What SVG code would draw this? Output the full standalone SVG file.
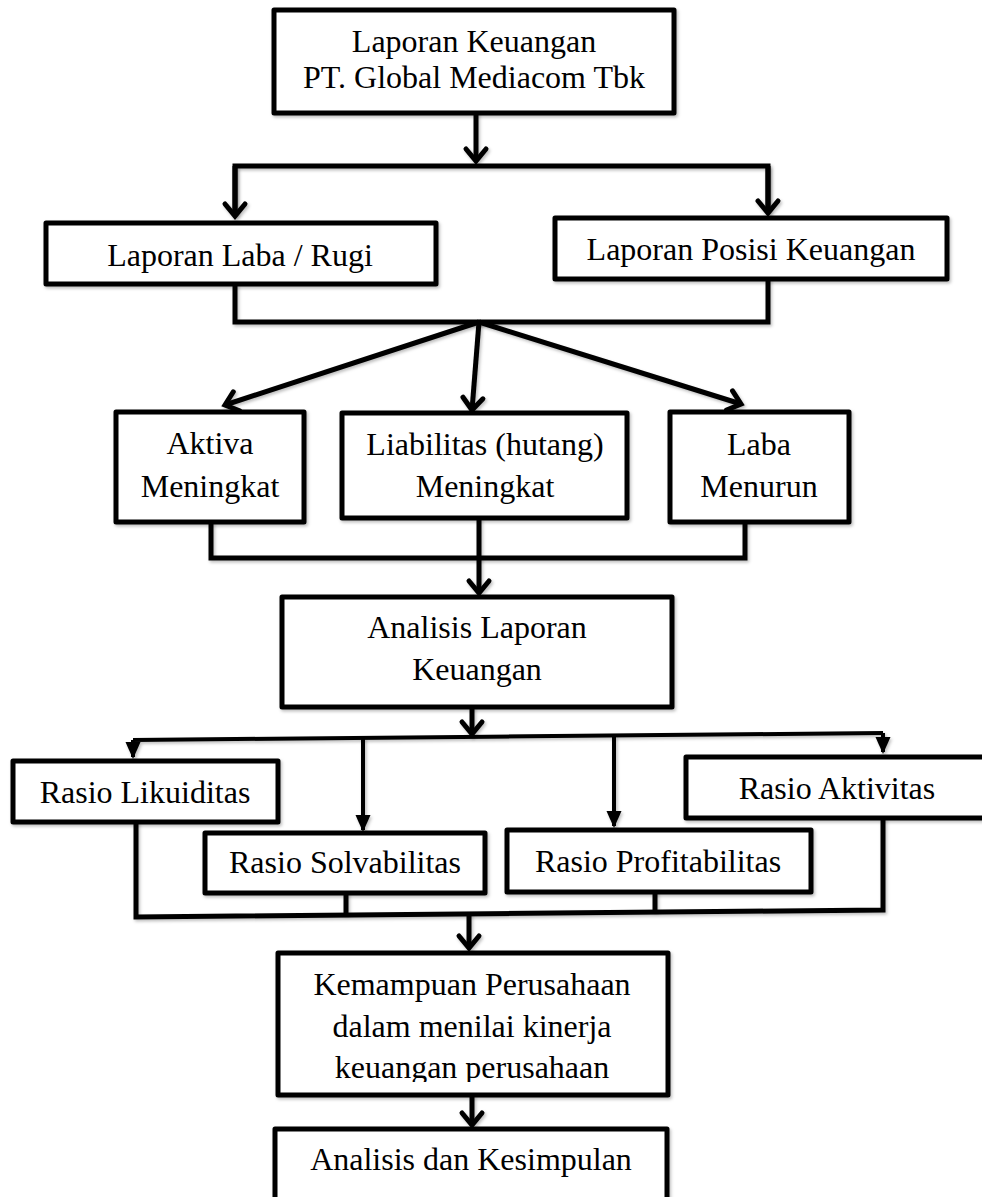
<svg xmlns="http://www.w3.org/2000/svg" width="982" height="1197" viewBox="0 0 982 1197">
<defs>
<style>
.box{fill:#fff;stroke:#000;stroke-width:5;stroke-linejoin:round;filter:url(#sh)}
.ln{fill:none;stroke:#000;stroke-width:5;stroke-linejoin:miter;filter:url(#sh)}
.ln2{fill:none;stroke:#000;stroke-width:4;filter:url(#sh)}
.t{font-family:"Liberation Serif","Times New Roman",serif;font-size:32px;fill:#000;text-anchor:middle}
</style>
<filter id="sh" filterUnits="userSpaceOnUse" x="0" y="0" width="982" height="1197">
<feDropShadow dx="1.5" dy="2" stdDeviation="1.5" flood-color="#000" flood-opacity="0.25"/>
</filter>
<marker id="chev" markerUnits="userSpaceOnUse" orient="auto" markerWidth="30" markerHeight="30" overflow="visible">
<path d="M-12,-10 L0,0 L-12,10" fill="none" stroke="#000" stroke-width="5" stroke-linejoin="miter" stroke-linecap="round"/>
</marker>
<marker id="tri" markerUnits="userSpaceOnUse" orient="auto" markerWidth="30" markerHeight="30" overflow="visible">
<path d="M2,0 L-15,-7.5 L-15,7.5 Z" fill="#000"/>
</marker>
<clipPath id="kclip"><rect x="280" y="955" width="386" height="127"/></clipPath>
</defs>

<g id="connectors">
<path class="ln" d="M476,113 V161" marker-end="url(#chev)"/>
<path class="ln" d="M235,216 V166 H768 V213"/>
<path class="ln" d="M235,166 V216" marker-end="url(#chev)"/>
<path class="ln" d="M768,166 V213" marker-end="url(#chev)"/>
<path class="ln" d="M235,284 V322 H768 V279"/>
<path class="ln" d="M479,322 L225,405" marker-end="url(#chev)"/>
<path class="ln" d="M479,322 L472,410" marker-end="url(#chev)"/>
<path class="ln" d="M479,322 L741,404" marker-end="url(#chev)"/>
<path class="ln" d="M211,522 V558 H745 V522"/>
<path class="ln" d="M479,518 V593" marker-end="url(#chev)"/>
<path class="ln" d="M472,707 V734" marker-end="url(#chev)"/>
<path class="ln2" d="M133,740 L883,733"/>
<path class="ln2" d="M133,740 V757" marker-end="url(#tri)"/>
<path class="ln2" d="M363,738 V830" marker-end="url(#tri)"/>
<path class="ln2" d="M614,736 V826" marker-end="url(#tri)"/>
<path class="ln2" d="M883,733 V752" marker-end="url(#tri)"/>
<path class="ln" d="M136,822 V917 L883,910 V818"/>
<path class="ln" d="M346,893 V915"/>
<path class="ln" d="M655,892 V912"/>
<path class="ln" d="M469,913 V948" marker-end="url(#chev)"/>
<path class="ln" d="M472,1095 V1125" marker-end="url(#chev)"/>
</g>

<g id="n-laporan-keuangan">
<rect class="box" x="274" y="10" width="400" height="103"/>
<text class="t" x="474" y="52">Laporan Keuangan</text>
<text class="t" x="474" y="88">PT. Global Mediacom Tbk</text>
</g>
<g id="n-laba-rugi">
<rect class="box" x="46" y="223" width="390" height="61"/>
<text class="t" x="240" y="266">Laporan Laba / Rugi</text>
</g>
<g id="n-posisi">
<rect class="box" x="555" y="218" width="392" height="61"/>
<text class="t" x="751" y="260">Laporan Posisi Keuangan</text>
</g>
<g id="n-aktiva">
<rect class="box" x="116" y="412" width="188" height="110"/>
<text class="t" x="210" y="454">Aktiva</text>
<text class="t" x="210" y="497">Meningkat</text>
</g>
<g id="n-liabilitas">
<rect class="box" x="342" y="413" width="285" height="105"/>
<text class="t" x="485" y="455">Liabilitas (hutang)</text>
<text class="t" x="485" y="497">Meningkat</text>
</g>
<g id="n-laba">
<rect class="box" x="670" y="412" width="179" height="110"/>
<text class="t" x="759" y="455">Laba</text>
<text class="t" x="759" y="497">Menurun</text>
</g>
<g id="n-analisis">
<rect class="box" x="282" y="597" width="390" height="110"/>
<text class="t" x="477" y="638">Analisis Laporan</text>
<text class="t" x="477" y="680">Keuangan</text>
</g>
<g id="n-likuiditas">
<rect class="box" x="13" y="761" width="265" height="61"/>
<text class="t" x="145" y="803">Rasio Likuiditas</text>
</g>
<g id="n-solvabilitas">
<rect class="box" x="205" y="833" width="280" height="60"/>
<text class="t" x="345" y="873">Rasio Solvabilitas</text>
</g>
<g id="n-profitabilitas">
<rect class="box" x="507" y="830" width="304" height="62"/>
<text class="t" x="658" y="872">Rasio Profitabilitas</text>
</g>
<g id="n-aktivitas">
<rect class="box" x="686" y="757" width="320" height="61"/>
<text class="t" x="837" y="799">Rasio Aktivitas</text>
</g>
<g id="n-kemampuan">
<rect class="box" x="278" y="953" width="390" height="142"/>
<g clip-path="url(#kclip)">
<text class="t" x="472" y="995">Kemampuan Perusahaan</text>
<text class="t" x="472" y="1037">dalam menilai kinerja</text>
<text class="t" x="472" y="1078">keuangan perusahaan</text>
</g>
</g>
<g id="n-kesimpulan">
<rect class="box" x="275" y="1129" width="392" height="90"/>
<text class="t" x="471" y="1170">Analisis dan Kesimpulan</text>
</g>
</svg>
